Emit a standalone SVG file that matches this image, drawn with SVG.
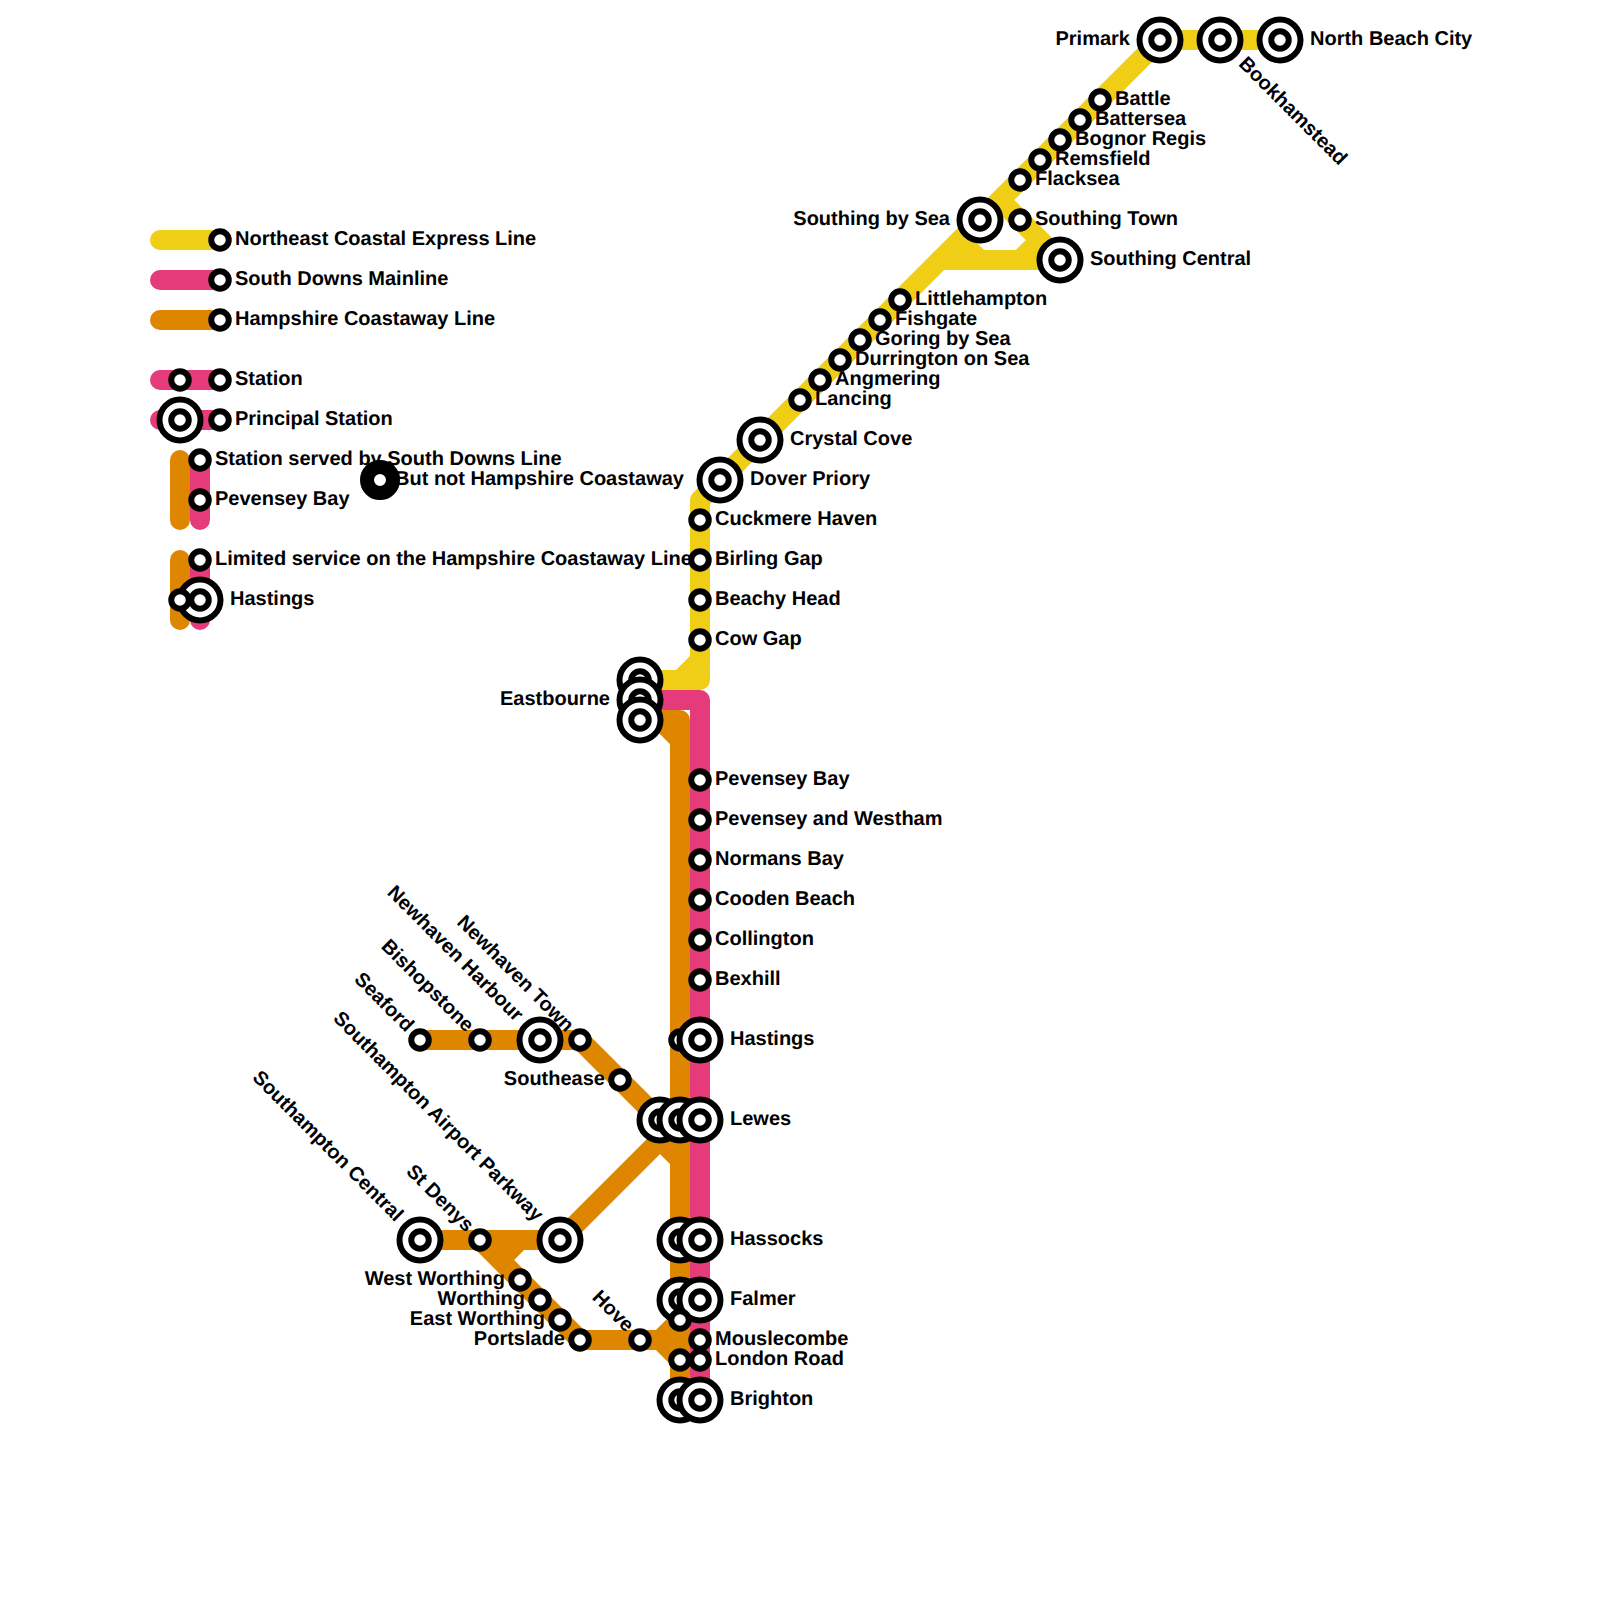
<svg xmlns="http://www.w3.org/2000/svg" width="1600" height="1600" viewBox="0 0 1600 1600">
<style>
text{font-family:"Liberation Sans",Arial,sans-serif;font-weight:700;font-size:20px;fill:#000;text-rendering:geometricPrecision}
.e{text-anchor:end}
.ln{fill:none;stroke-width:20;stroke-linecap:round;stroke-linejoin:round}
.y{stroke:#f0ce15}.p{stroke:#e63b7a}.o{stroke:#de8600}
circle{fill:#fff;stroke:#000;stroke-width:6}
circle.s{r:8.75px}
circle.b{r:20.5px}
</style>
<rect width="1600" height="1600" fill="#fff"/>
<g id="connectors">
<path class="ln y" d="M160 240H220"/>
<path class="ln p" d="M160 280H220"/>
<path class="ln o" d="M160 320H220"/>
<path class="ln p" d="M160 380H220M160 420H220"/>
<path class="ln o" d="M180 460V520M180 560V620"/>
<path class="ln p" d="M200 460V520M200 560V620"/>
<path class="ln y" d="M640 680H700V500L720 480L1160 40H1280"/>
<path class="ln y" d="M680 680L700 660"/>
<path class="ln y" d="M940 260H1060L1000 200M1020 260L1040 240M960 240L980 260"/>
<path class="ln p" d="M640 700H700V1400"/>
<path class="ln o" d="M640 720H680V1400M660 720L680 740"/>
<path class="ln o" d="M420 1040H580L660 1120L680 1140"/>
<path class="ln o" d="M420 1240H560L660 1140L680 1160"/>
<path class="ln o" d="M480 1240L580 1340H660L680 1320M660 1340L680 1360M500 1260L520 1240"/>
</g>
<g id="legend">
<g id="leg-yellow"><circle class="s" cx="220" cy="240"/><text x="235" y="245">Northeast Coastal Express Line</text></g>
<g id="leg-pink"><circle class="s" cx="220" cy="280"/><text x="235" y="285">South Downs Mainline</text></g>
<g id="leg-orange"><circle class="s" cx="220" cy="320"/><text x="235" y="325">Hampshire Coastaway Line</text></g>
<g id="leg-station"><circle class="s" cx="180" cy="380"/><circle class="s" cx="220" cy="380"/><text x="235" y="385">Station</text></g>
<g id="leg-principal"><circle class="b" cx="180" cy="420"/><circle class="s" cx="180" cy="420"/><circle class="s" cx="220" cy="420"/><text x="235" y="425">Principal Station</text></g>
<g id="leg-served"><text x="215" y="465">Station served by South Downs Line</text><circle class="s" cx="200" cy="460"/></g>
<g id="leg-pevensey"><circle class="s" cx="200" cy="500"/><text x="215" y="505">Pevensey Bay</text></g>
<g id="leg-butnot"><circle cx="380" cy="480" r="13" style="stroke-width:14"/><text x="395" y="485">But not Hampshire Coastaway</text></g>
<g id="leg-limited"><circle class="s" cx="200" cy="560"/><text x="215" y="565">Limited service on the Hampshire Coastaway Line</text></g>
<g id="leg-hastings"><circle class="b" cx="200" cy="600"/><circle class="s" cx="200" cy="600"/><circle class="s" cx="180" cy="600"/><text x="230" y="605">Hastings</text></g>
</g>
<g id="n-primark"><circle class="b" cx="1160" cy="40"/><circle class="s" cx="1160" cy="40"/><text class="e" x="1130" y="45">Primark</text></g>
<g id="n-bookhamstead"><circle class="b" cx="1220" cy="40"/><circle class="s" cx="1220" cy="40"/><text transform="translate(1220 40) rotate(45)" x="30" y="5">Bookhamstead</text></g>
<g id="n-northbeach"><circle class="b" cx="1280" cy="40"/><circle class="s" cx="1280" cy="40"/><text x="1310" y="45">North Beach City</text></g>
<g id="n-battle"><circle class="s" cx="1100" cy="100"/><text x="1115" y="105">Battle</text></g>
<g id="n-battersea"><circle class="s" cx="1080" cy="120"/><text x="1095" y="125">Battersea</text></g>
<g id="n-bognor"><circle class="s" cx="1060" cy="140"/><text x="1075" y="145">Bognor Regis</text></g>
<g id="n-remsfield"><circle class="s" cx="1040" cy="160"/><text x="1055" y="165">Remsfield</text></g>
<g id="n-flacksea"><circle class="s" cx="1020" cy="180"/><text x="1035" y="185">Flacksea</text></g>
<g id="n-southingtown"><circle class="s" cx="1020" cy="220"/><text x="1035" y="225">Southing Town</text></g>
<g id="n-southingsea"><circle class="b" cx="980" cy="220"/><circle class="s" cx="980" cy="220"/><text class="e" x="950" y="225">Southing by Sea</text></g>
<g id="n-southingcentral"><circle class="b" cx="1060" cy="260"/><circle class="s" cx="1060" cy="260"/><text x="1090" y="265">Southing Central</text></g>
<g id="n-littlehampton"><circle class="s" cx="900" cy="300"/><text x="915" y="305">Littlehampton</text></g>
<g id="n-fishgate"><circle class="s" cx="880" cy="320"/><text x="895" y="325">Fishgate</text></g>
<g id="n-goring"><circle class="s" cx="860" cy="340"/><text x="875" y="345">Goring by Sea</text></g>
<g id="n-durrington"><circle class="s" cx="840" cy="360"/><text x="855" y="365">Durrington on Sea</text></g>
<g id="n-angmering"><circle class="s" cx="820" cy="380"/><text x="835" y="385">Angmering</text></g>
<g id="n-lancing"><circle class="s" cx="800" cy="400"/><text x="815" y="405">Lancing</text></g>
<g id="n-crystal"><circle class="b" cx="760" cy="440"/><circle class="s" cx="760" cy="440"/><text x="790" y="445">Crystal Cove</text></g>
<g id="n-dover"><circle class="b" cx="720" cy="480"/><circle class="s" cx="720" cy="480"/><text x="750" y="485">Dover Priory</text></g>
<g id="n-cuckmere"><circle class="s" cx="700" cy="520"/><text x="715" y="525">Cuckmere Haven</text></g>
<g id="n-birling"><circle class="s" cx="700" cy="560"/><text x="715" y="565">Birling Gap</text></g>
<g id="n-beachy"><circle class="s" cx="700" cy="600"/><text x="715" y="605">Beachy Head</text></g>
<g id="n-cowgap"><circle class="s" cx="700" cy="640"/><text x="715" y="645">Cow Gap</text></g>
<g id="n-eastbourne"><circle class="b" cx="640" cy="680"/><circle class="s" cx="640" cy="680"/><circle class="b" cx="640" cy="700"/><circle class="s" cx="640" cy="700"/><circle class="b" cx="640" cy="720"/><circle class="s" cx="640" cy="720"/><text class="e" x="610" y="705">Eastbourne</text></g>
<g id="n-pevensey"><circle class="s" cx="700" cy="780"/><text x="715" y="785">Pevensey Bay</text></g>
<g id="n-westham"><circle class="s" cx="700" cy="820"/><text x="715" y="825">Pevensey and Westham</text></g>
<g id="n-normans"><circle class="s" cx="700" cy="860"/><text x="715" y="865">Normans Bay</text></g>
<g id="n-cooden"><circle class="s" cx="700" cy="900"/><text x="715" y="905">Cooden Beach</text></g>
<g id="n-collington"><circle class="s" cx="700" cy="940"/><text x="715" y="945">Collington</text></g>
<g id="n-bexhill"><circle class="s" cx="700" cy="980"/><text x="715" y="985">Bexhill</text></g>
<g id="n-hastings"><circle class="s" cx="680" cy="1040"/><circle class="b" cx="700" cy="1040"/><circle class="s" cx="700" cy="1040"/><text x="730" y="1045">Hastings</text></g>
<g id="n-lewes"><circle class="b" cx="660" cy="1120"/><circle class="s" cx="660" cy="1120"/><circle class="b" cx="680" cy="1120"/><circle class="s" cx="680" cy="1120"/><circle class="b" cx="700" cy="1120"/><circle class="s" cx="700" cy="1120"/><text x="730" y="1125">Lewes</text></g>
<g id="n-hassocks"><circle class="b" cx="680" cy="1240"/><circle class="s" cx="680" cy="1240"/><circle class="b" cx="700" cy="1240"/><circle class="s" cx="700" cy="1240"/><text x="730" y="1245">Hassocks</text></g>
<g id="n-falmer"><circle class="b" cx="680" cy="1300"/><circle class="s" cx="680" cy="1300"/><circle class="b" cx="700" cy="1300"/><circle class="s" cx="700" cy="1300"/><text x="730" y="1305">Falmer</text></g>
<g id="n-mouslecombe"><circle class="s" cx="680" cy="1320"/><circle class="s" cx="700" cy="1340"/><text x="715" y="1345">Mouslecombe</text></g>
<g id="n-london"><circle class="s" cx="680" cy="1360"/><circle class="s" cx="700" cy="1360"/><text x="715" y="1365">London Road</text></g>
<g id="n-brighton"><circle class="b" cx="680" cy="1400"/><circle class="s" cx="680" cy="1400"/><circle class="b" cx="700" cy="1400"/><circle class="s" cx="700" cy="1400"/><text x="730" y="1405">Brighton</text></g>
<g id="n-seaford"><circle class="s" cx="420" cy="1040"/><text class="e" transform="translate(420 1040) rotate(45)" x="-15" y="5">Seaford</text></g>
<g id="n-bishopstone"><circle class="s" cx="480" cy="1040"/><text class="e" transform="translate(480 1040) rotate(45)" x="-15" y="5">Bishopstone</text></g>
<g id="n-newhavenh"><circle class="b" cx="540" cy="1040"/><circle class="s" cx="540" cy="1040"/><text class="e" transform="translate(540 1040) rotate(45)" x="-30" y="5">Newhaven Harbour</text></g>
<g id="n-newhavent"><circle class="s" cx="580" cy="1040"/><text class="e" transform="translate(580 1040) rotate(45)" x="-15" y="5">Newhaven Town</text></g>
<g id="n-southease"><circle class="s" cx="620" cy="1080"/><text class="e" x="605" y="1085">Southease</text></g>
<g id="n-southampton"><circle class="b" cx="420" cy="1240"/><circle class="s" cx="420" cy="1240"/><text class="e" transform="translate(420 1240) rotate(45)" x="-30" y="5">Southampton Central</text></g>
<g id="n-stdenys"><circle class="s" cx="480" cy="1240"/><text class="e" transform="translate(480 1240) rotate(45)" x="-15" y="5">St Denys</text></g>
<g id="n-airport"><circle class="b" cx="560" cy="1240"/><circle class="s" cx="560" cy="1240"/><text class="e" transform="translate(560 1240) rotate(45)" x="-30" y="5">Southampton Airport Parkway</text></g>
<g id="n-westworthing"><circle class="s" cx="520" cy="1280"/><text class="e" x="505" y="1285">West Worthing</text></g>
<g id="n-worthing"><circle class="s" cx="540" cy="1300"/><text class="e" x="525" y="1305">Worthing</text></g>
<g id="n-eastworthing"><circle class="s" cx="560" cy="1320"/><text class="e" x="545" y="1325">East Worthing</text></g>
<g id="n-portslade"><circle class="s" cx="580" cy="1340"/><text class="e" x="565" y="1345">Portslade</text></g>
<g id="n-hove"><circle class="s" cx="640" cy="1340"/><text class="e" transform="translate(640 1340) rotate(45)" x="-15" y="5">Hove</text></g>
</svg>
